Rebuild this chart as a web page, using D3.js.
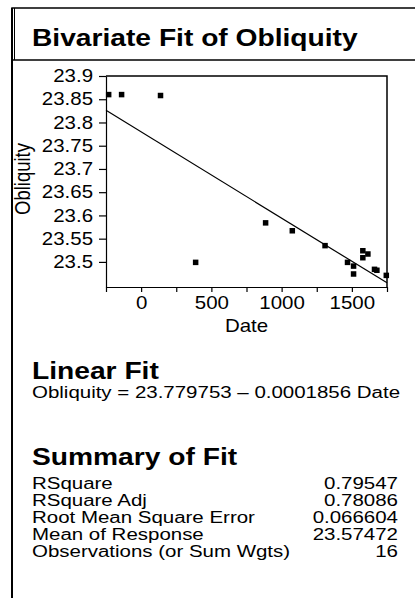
<!DOCTYPE html>
<html>
<head>
<meta charset="utf-8">
<script src="https://cdn.jsdelivr.net/npm/d3@7"></script>
<style>
  body { margin: 0; background: #fff; }
  text { font-family: "Liberation Sans", Arial, sans-serif; fill: #000; }
</style>
</head>
<body>
<div id="chart"></div>
<script>
// data
var dates = [-231, -139, 138, 388, 886, 1076, 1309, 1469, 1512, 1512, 1578, 1578, 1614, 1661, 1678, 1745];
var obliquity = [23.860, 23.860, 23.858, 23.499, 23.584, 23.567, 23.535, 23.499, 23.491, 23.474, 23.524, 23.509, 23.517, 23.484, 23.482, 23.471];
var fitIntercept = 23.779753;
var fitSlope = -0.0001856;
var xTicks = [-250, 0, 250, 500, 750, 1000, 1250, 1500, 1750];
var xTickLabels = [0, 500, 1000, 1500];
var yTicks = [23.5, 23.55, 23.6, 23.65, 23.7, 23.75, 23.8, 23.85, 23.9];
var summaryLabels = ["RSquare", "RSquare Adj", "Root Mean Square Error", "Mean of Response", "Observations (or Sum Wgts)"];
var summaryValues = ["0.79547", "0.78086", "0.066604", "23.57472", "16"];

var width = 415;
var height = 598;

// the reference text is drawn wide, so each kind of text gets a size and a horizontal stretch
var bodyFont = {size: 16, sx: 1.28};
var headFont = {size: 23.5, sx: 1.2};
var tickFont = {size: 17.5, sx: 1.17};

var plot = {left: 106, right: 387, top: 76, bottom: 287};

var svg = d3.select("#chart")
  .append("svg")
  .attr("width", width)
  .attr("height", height);

function label(x, y, txt, font, weight, anchor) {
  return svg.append("text")
    .attr("transform", `translate(${x},${y}) scale(${font.sx},1)`)
    .attr("text-anchor", anchor || "start")
    .style("font-size", font.size + "px")
    .style("font-weight", weight || "normal")
    .text(txt);
}

// report frame
svg.append("rect")
  .attr("x", 12).attr("y", 8)
  .attr("width", width).attr("height", 52)
  .style("fill", "none").style("stroke", "#000").style("stroke-width", 1.5);
svg.append("line")
  .attr("x1", 12).attr("x2", 12).attr("y1", 8).attr("y2", height)
  .style("stroke", "#000").style("stroke-width", 2);
svg.append("line")
  .attr("x1", 14.5).attr("x2", 14.5).attr("y1", 8).attr("y2", 60)
  .style("stroke", "#000").style("stroke-width", 1);

label(32, 46, "Bivariate Fit of Obliquity", headFont, "bold");

var x = d3.scaleLinear().domain([-250, 1750]).range([plot.left, plot.right]);
var y = d3.scaleLinear().domain([23.446, 23.9]).range([plot.bottom, plot.top]);

// frame top and right
svg.append("path")
  .attr("d", `M${plot.left},${plot.top}H${plot.right}V${plot.bottom}`)
  .style("fill", "none").style("stroke", "#000").style("stroke-width", 1.5);

var xAxis = d3.axisBottom(x).tickValues(xTicks).tickSize(5).tickSizeOuter(0)
  .tickFormat(d => xTickLabels.indexOf(d) >= 0 ? d : "");
var yAxis = d3.axisLeft(y).tickValues(yTicks).tickSize(7).tickSizeOuter(0)
  .tickFormat(d => d3.format("")(+d.toFixed(2)));

var gx = svg.append("g")
  .attr("transform", `translate(0,${plot.bottom})`)
  .call(xAxis);
gx.selectAll("text")
  .attr("y", 10)
  .attr("transform", `scale(${tickFont.sx},1)`)
  .style("font-size", tickFont.size + "px")
  .style("font-family", "Liberation Sans, Arial, sans-serif");

var gy = svg.append("g")
  .attr("transform", `translate(${plot.left},0)`)
  .call(yAxis);
gy.selectAll("text")
  .attr("x", -13 / tickFont.sx)
  .attr("transform", `scale(${tickFont.sx},1)`)
  .style("font-size", tickFont.size + "px")
  .style("font-family", "Liberation Sans, Arial, sans-serif");

svg.selectAll(".domain, .tick line").style("stroke", "#000").style("stroke-width", 1.2);

// axis titles
label((plot.left + plot.right) / 2, 332, "Date", tickFont, "normal", "middle");
svg.append("text")
  .attr("transform", `translate(30,179) scale(${tickFont.sx},1) rotate(-90)`)
  .attr("text-anchor", "middle")
  .style("font-size", "18.5px")
  .text("Obliquity");

// fit line
var fitLine = d3.line()
  .x(d => x(d))
  .y(d => y(fitIntercept + fitSlope * d));
svg.append("path")
  .datum(x.domain())
  .attr("d", fitLine)
  .style("fill", "none").style("stroke", "#000").style("stroke-width", 1.2);

// points
svg.selectAll(".pt")
  .data(dates.map((d, i) => ({date: d, obl: obliquity[i]})))
  .enter().append("rect")
  .attr("class", "pt")
  .attr("x", d => x(d.date) - 2.75)
  .attr("y", d => y(d.obl) - 2.75)
  .attr("width", 5.5)
  .attr("height", 5.5)
  .style("fill", "#000");

// Linear Fit
label(32, 379, "Linear Fit", headFont, "bold");
label(32, 398, "Obliquity = 23.779753 \u2013 0.0001856 Date", bodyFont);

// Summary of Fit
label(32, 465, "Summary of Fit", headFont, "bold");
summaryLabels.forEach((s, i) => {
  label(32, 489 + i * 17, s, bodyFont);
  label(398, 489 + i * 17, summaryValues[i], bodyFont, "normal", "end");
});
</script>
</body>
</html>
